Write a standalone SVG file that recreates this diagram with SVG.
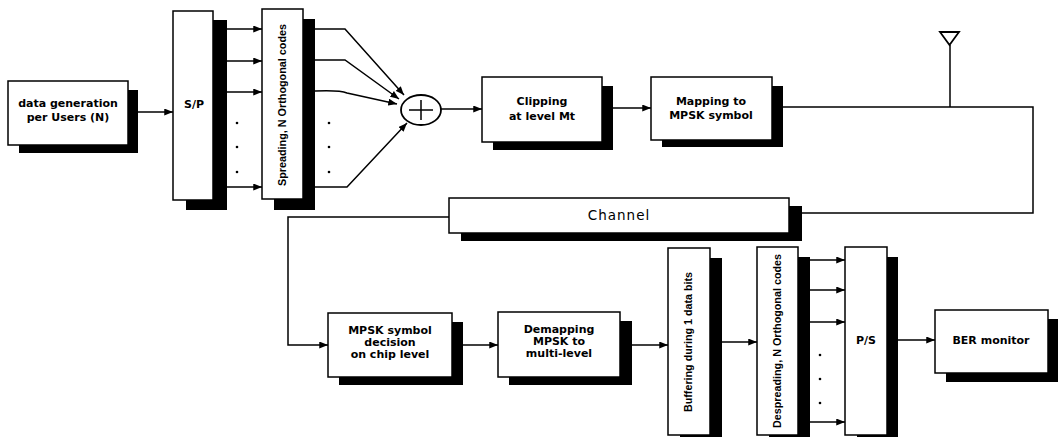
<svg xmlns="http://www.w3.org/2000/svg" width="1058" height="437" viewBox="0 0 1058 437">
<defs>
<style>
.sh{fill:#000}
.bx{fill:#fff;stroke:#000;stroke-width:1.5}
.t{font-family:"DejaVu Sans",sans-serif;font-weight:bold;font-size:11px;text-anchor:middle;fill:#000}
.v{font-family:"Liberation Sans",sans-serif;font-weight:bold;font-size:11px;text-anchor:middle;fill:#000}
.c{fill:none;stroke:#000;stroke-width:1.5}
.dot{fill:#000}
</style>
<marker id="ar" viewBox="0 0 10 8" refX="10" refY="4" markerWidth="9" markerHeight="7" markerUnits="userSpaceOnUse" orient="auto">
<path d="M0,0 L10,4 L0,8 z" fill="#000"/>
</marker>
</defs>
<rect width="1058" height="437" fill="#fff"/>

<g id="connectors">
<path class="c" d="M138,112 L173,112" marker-end="url(#ar)"/>
<path class="c" d="M227,29 L262,29" marker-end="url(#ar)"/>
<path class="c" d="M227,61 L262,61" marker-end="url(#ar)"/>
<path class="c" d="M227,92 L262,92" marker-end="url(#ar)"/>
<path class="c" d="M227,187 L262,187" marker-end="url(#ar)"/>
<path class="c" d="M315,29 L345,29 L404,95" marker-end="url(#ar)"/>
<path class="c" d="M315,60 L345,60 L399,99" marker-end="url(#ar)"/>
<path class="c" d="M315,91 Q340,90 347,93 L397,104" marker-end="url(#ar)"/>
<path class="c" d="M315,187 L347,187 L407,123" marker-end="url(#ar)"/>
<path class="c" d="M441,109 L482,109" marker-end="url(#ar)"/>
<path class="c" d="M613,108 L651,108" marker-end="url(#ar)"/>
<path class="c" d="M783,107 L1033,107 L1033,213 L802,213"/>
<path class="c" d="M950,107 L950,45"/>
<path class="c" d="M449,217 L288,217 L288,345 L328,345" marker-end="url(#ar)"/>
<path class="c" d="M463,345 L498,345" marker-end="url(#ar)"/>
<path class="c" d="M632,345 L668,345" marker-end="url(#ar)"/>
<path class="c" d="M722,342 L757,342" marker-end="url(#ar)"/>
<path class="c" d="M810,260 L845,260" marker-end="url(#ar)"/>
<path class="c" d="M810,290 L845,290" marker-end="url(#ar)"/>
<path class="c" d="M810,322 L845,322" marker-end="url(#ar)"/>
<path class="c" d="M810,422 L845,422" marker-end="url(#ar)"/>
<path class="c" d="M898,340 L935,340" marker-end="url(#ar)"/>
</g>

<g id="antenna">
<polygon points="940,32 959,32 949.5,45" fill="#fff" stroke="#000" stroke-width="1.8"/>
</g>

<g id="dots">
<circle class="dot" cx="237" cy="123" r="1.3"/>
<circle class="dot" cx="237" cy="147" r="1.3"/>
<circle class="dot" cx="237" cy="172" r="1.3"/>
<circle class="dot" cx="329" cy="123" r="1.3"/>
<circle class="dot" cx="329" cy="147" r="1.3"/>
<circle class="dot" cx="329" cy="172" r="1.3"/>
<circle class="dot" cx="820" cy="355" r="1.3"/>
<circle class="dot" cx="820" cy="379" r="1.3"/>
<circle class="dot" cx="820" cy="403" r="1.3"/>
</g>

<g id="datagen">
<rect class="sh" x="19" y="90" width="119" height="63"/>
<rect class="bx" x="8" y="81" width="120" height="64"/>
<text class="t" x="68" y="107">data generation</text>
<text class="t" x="68" y="121">per Users (N)</text>
</g>

<g id="sp">
<rect class="sh" x="186" y="20" width="41" height="190"/>
<rect class="bx" x="173" y="11" width="40" height="189"/>
<text class="t" x="194" y="108">S/P</text>
</g>

<g id="spreading">
<rect class="sh" x="274" y="19" width="41" height="191"/>
<rect class="bx" x="262" y="9" width="41" height="190"/>
<text class="v" transform="translate(286,105) rotate(-90)" textLength="162" lengthAdjust="spacingAndGlyphs">Spreading, N Orthogonal codes</text>
</g>

<g id="sum">
<ellipse cx="421" cy="110" rx="20" ry="15" fill="#fff" stroke="#000" stroke-width="1.8"/>
<path d="M409,110 L433,110 M421,100 L421,120" stroke="#000" stroke-width="1.5"/>
</g>

<g id="clipping">
<rect class="sh" x="493" y="86" width="120" height="64"/>
<rect class="bx" x="482" y="77" width="120" height="65"/>
<text class="t" x="542" y="105">Clipping</text>
<text class="t" x="542" y="120">at level Mt</text>
</g>

<g id="mapping">
<rect class="sh" x="662" y="86" width="121" height="61"/>
<rect class="bx" x="651" y="77" width="121" height="63"/>
<text class="t" x="711" y="105">Mapping to</text>
<text class="t" x="711" y="119">MPSK symbol</text>
</g>

<g id="channel">
<rect class="sh" x="461" y="206" width="341" height="35"/>
<rect class="bx" x="449" y="198" width="340" height="35"/>
<text x="619" y="220" font-family="DejaVu Sans, sans-serif" font-size="13.5" letter-spacing="1" text-anchor="middle" fill="#000">Channel</text>
</g>

<g id="mpsk">
<rect class="sh" x="339" y="322" width="124" height="63"/>
<rect class="bx" x="328" y="313" width="124" height="64"/>
<text class="t" x="390" y="334">MPSK symbol</text>
<text class="t" x="390" y="346">decision</text>
<text class="t" x="390" y="358">on chip level</text>
</g>

<g id="demapping">
<rect class="sh" x="509" y="321" width="123" height="64"/>
<rect class="bx" x="498" y="312" width="122" height="65"/>
<text class="t" x="559" y="333">Demapping</text>
<text class="t" x="559" y="345">MPSK to</text>
<text class="t" x="559" y="357">multi-level</text>
</g>

<g id="buffering">
<rect class="sh" x="680" y="258" width="42" height="185"/>
<rect class="bx" x="668" y="248" width="42" height="187"/>
<text class="v" transform="translate(692,342) rotate(-90)" textLength="140" lengthAdjust="spacingAndGlyphs">Buffering during 1 data bits</text>
</g>

<g id="despreading">
<rect class="sh" x="769" y="257" width="41" height="186"/>
<rect class="bx" x="757" y="247" width="41" height="188"/>
<text class="v" transform="translate(781,341) rotate(-90)" textLength="174" lengthAdjust="spacingAndGlyphs">Despreading, N Orthogonal codes</text>
</g>

<g id="ps">
<rect class="sh" x="857" y="257" width="41" height="186"/>
<rect class="bx" x="845" y="247" width="42" height="188"/>
<text class="t" x="866" y="344">P/S</text>
</g>

<g id="ber">
<rect class="sh" x="946" y="319" width="112" height="63"/>
<rect class="bx" x="935" y="310" width="113" height="63"/>
<text class="t" x="991" y="344">BER monitor</text>
</g>
</svg>
